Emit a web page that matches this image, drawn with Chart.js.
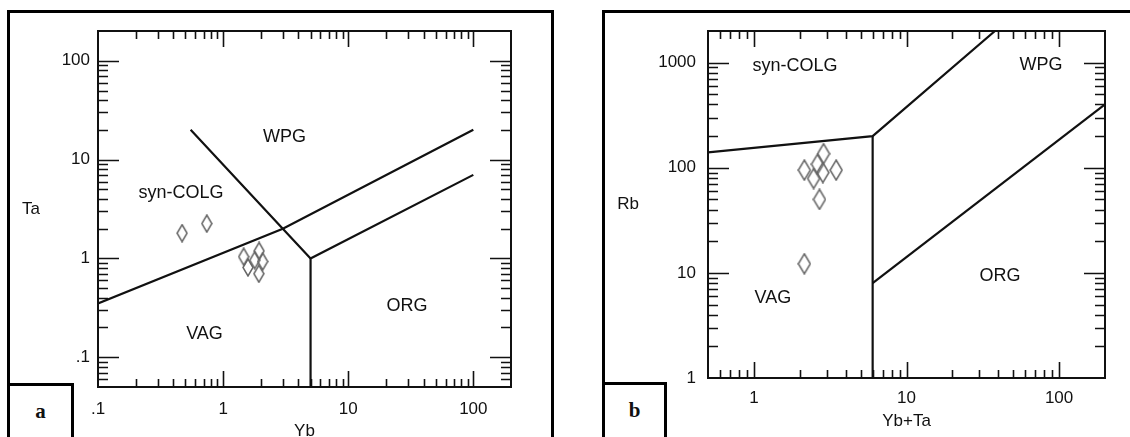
<!DOCTYPE html>
<html>
<head>
<meta charset="utf-8">
<script src="https://cdn.jsdelivr.net/npm/chart.js@4.4.1/dist/chart.umd.min.js"></script>
<style>
  body { margin: 0; background: #fff; width: 1130px; height: 437px; overflow: hidden; position: relative; }
  .frame { position: absolute; border: 3px solid #000; border-bottom: none; box-sizing: border-box; }
  #frameA { left: 7px; top: 10px; width: 547px; height: 440px; }
  #frameB { left: 602px; top: 10px; width: 600px; height: 440px; }
  canvas { position: absolute; top: 0; }
  #chartA { left: 0; }
  #chartB { left: 565px; }
  .tag { position: absolute; background: #fff; border: 3px solid #000; border-bottom: none; box-sizing: border-box;
         font: bold 21px 'Liberation Serif', 'DejaVu Serif', serif; text-align: center; line-height: 50px; color: #111; }
  #tagA { left: 7px; top: 383px; width: 67px; height: 60px; }
  #tagB { left: 602px; top: 382px; width: 65px; height: 60px; }
</style>
</head>
<body>
<div class="frame" id="frameA"></div>
<div class="frame" id="frameB"></div>
<canvas id="chartA" width="560" height="437"></canvas>
<canvas id="chartB" width="565" height="437"></canvas>
<div class="tag" id="tagA">a</div>
<div class="tag" id="tagB">b</div>
<script>
// ---- panel a : Ta vs Yb ----
const aYb = [0.47, 0.74, 1.46, 1.58, 1.79, 1.94, 2.07, 1.93];
const aTa = [1.8, 2.25, 1.04, 0.81, 0.96, 1.19, 0.93, 0.70];
const aLineVagCol = [[0.1, 0.35], [3, 2], [100, 20]];
const aLineWpg = [[0.55, 20], [3, 2], [5, 1]];
const aLineOrg = [[5, 0.05], [5, 1], [100, 7]];
const aXTicks = [0.1, 1, 10, 100];
const aXLabels = ['.1', '1', '10', '100'];
const aYTicks = [0.1, 1, 10, 100];
const aYLabels = ['.1', '1', '10', '100'];
const aFields = ['WPG', 'syn-COLG', 'VAG', 'ORG'];
const aFieldX = [3.1, 0.46, 0.71, 29.5];
const aFieldY = [17, 4.6, 0.17, 0.33];

// ---- panel b : Rb vs Yb+Ta ----
const bYbTa = [2.14, 2.46, 2.61, 2.86, 2.83, 3.46, 2.69, 2.14];
const bRb = [95, 79, 108, 136, 90, 95, 50, 12.2];
const bLineCol = [[0.5, 140], [6, 200], [38, 2000]];
const bLineVag = [[6, 1], [6, 200]];
const bLineOrg = [[6, 8], [200, 400]];
const bXTicks = [1, 10, 100];
const bXLabels = ['1', '10', '100'];
const bYTicks = [1, 10, 100, 1000];
const bYLabels = ['1', '10', '100', '1000'];
const bFields = ['syn-COLG', 'WPG', 'VAG', 'ORG'];
const bFieldX = [1.86, 76, 1.33, 41];
const bFieldY = [930, 945, 5.8, 9.4];

const FONT = "'Liberation Sans', Arial, sans-serif";

function diamond(w, h) {
  const c = document.createElement('canvas');
  c.width = w + 2; c.height = h + 2;
  const g = c.getContext('2d');
  g.strokeStyle = '#666';
  g.lineWidth = 1.5;
  g.beginPath();
  g.moveTo(c.width / 2, 1);
  g.lineTo(c.width - 1, c.height / 2);
  g.lineTo(c.width / 2, c.height - 1);
  g.lineTo(1, c.height / 2);
  g.closePath();
  g.stroke();
  return c;
}

// box, inward log ticks, field names and axis titles
const decor = {
  id: 'decor',
  afterDatasetsDraw(chart, args, o) {
    const ctx = chart.ctx, a = chart.chartArea;
    const xs = chart.scales.x, ys = chart.scales.y;
    ctx.save();
    ctx.strokeStyle = '#111';
    ctx.lineWidth = 2;
    ctx.strokeRect(a.left, a.top, a.right - a.left, a.bottom - a.top);
    ctx.lineWidth = 1.6;
    ctx.beginPath();
    const logTicks = (min, max, fn) => {
      for (let e = Math.floor(Math.log10(min)); e <= Math.ceil(Math.log10(max)); e++) {
        for (let m = 1; m <= 9; m++) {
          const v = m * Math.pow(10, e);
          if (v <= min * 1.001 || v >= max * 0.999) continue;
          fn(v, m === 1);
        }
      }
    };
    logTicks(xs.min, xs.max, (v, major) => {
      const p = Math.round(xs.getPixelForValue(v)) + 0.5;
      const len = major ? 16 : 8;
      ctx.moveTo(p, a.bottom); ctx.lineTo(p, a.bottom - len);
      ctx.moveTo(p, a.top); ctx.lineTo(p, a.top + len);
    });
    logTicks(ys.min, ys.max, (v, major) => {
      const p = Math.round(ys.getPixelForValue(v)) + 0.5;
      const len = major ? 21 : 10;
      ctx.moveTo(a.left, p); ctx.lineTo(a.left + len, p);
      ctx.moveTo(a.right, p); ctx.lineTo(a.right - len, p);
    });
    ctx.stroke();

    ctx.fillStyle = '#111';
    ctx.textAlign = 'center';
    ctx.textBaseline = 'middle';
    ctx.font = '18px ' + FONT;
    o.names.forEach((n, i) => {
      ctx.fillText(n, xs.getPixelForValue(o.nx[i]), ys.getPixelForValue(o.ny[i]));
    });
    ctx.font = '17px ' + FONT;
    ctx.fillText(o.yTitle, o.yTitlePos[0], (a.top + a.bottom) / 2);
    ctx.fillText(o.xTitle, (a.left + a.right) / 2, o.xTitlePos);
    ctx.restore();
  }
};

function boundary(pts) {
  return {
    data: pts.map(p => ({ x: p[0], y: p[1] })),
    showLine: true, borderColor: '#111', borderWidth: 2.2, pointRadius: 0, fill: false
  };
}

function makeChart(id, s) {
  const pts = s.px.map((x, i) => ({ x: x, y: s.py[i] }));
  const axis = (min, max, ticks, labels, pad) => ({
    type: 'logarithmic', min: min, max: max,
    grid: { display: false, drawTicks: false },
    border: { display: false },
    afterBuildTicks: sc => { sc.ticks = ticks.map(v => ({ value: v })); },
    ticks: {
      autoSkip: false, maxRotation: 0, padding: pad, color: '#111',
      font: { family: FONT, size: 17 },
      callback: (v, i) => labels[i]
    }
  });
  const x = axis(s.xMin, s.xMax, s.xTicks, s.xLabels, s.xPad);
  x.afterFit = sc => { sc.height = s.xH; };
  const y = axis(s.yMin, s.yMax, s.yTicks, s.yLabels, s.yPad);
  y.afterFit = sc => { sc.width = s.yW; };
  return new Chart(document.getElementById(id), {
    type: 'scatter',
    data: {
      datasets: [
        ...s.lines.map(boundary),
        { data: pts, pointStyle: diamond(s.dw, s.dh), pointRadius: 6 }
      ]
    },
    options: {
      responsive: false,
      animation: false,
      events: [],
      layout: { padding: { top: s.top, right: s.right, left: 0, bottom: 0 } },
      plugins: {
        legend: { display: false },
        tooltip: { enabled: false },
        decor: {
          names: s.names, nx: s.nx, ny: s.ny,
          xTitle: s.xTitle, yTitle: s.yTitle, xTitlePos: s.xTitlePos, yTitlePos: s.yTitlePos
        }
      },
      scales: { x: x, y: y }
    },
    plugins: [decor]
  });
}

makeChart('chartA', {
  px: aYb, py: aTa, dw: 10, dh: 17,
  lines: [aLineVagCol, aLineWpg, aLineOrg],
  xMin: 0.1, xMax: 200, yMin: 0.05, yMax: 200,
  xTicks: aXTicks, xLabels: aXLabels, yTicks: aYTicks, yLabels: aYLabels,
  xPad: 12, yPad: 8, xH: 50, yW: 98, top: 31, right: 49,
  names: aFields, nx: aFieldX, ny: aFieldY,
  xTitle: 'Yb', yTitle: 'Ta', xTitlePos: 431, yTitlePos: [31]
});

makeChart('chartB', {
  px: bYbTa, py: bRb, dw: 12, dh: 20,
  lines: [bLineCol, bLineVag, bLineOrg],
  xMin: 0.5, xMax: 200, yMin: 1, yMax: 2000,
  xTicks: bXTicks, xLabels: bXLabels, yTicks: bYTicks, yLabels: bYLabels,
  xPad: 10, yPad: 12, xH: 59, yW: 143, top: 31, right: 25,
  names: bFields, nx: bFieldX, ny: bFieldY,
  xTitle: 'Yb+Ta', yTitle: 'Rb', xTitlePos: 421, yTitlePos: [63]
});
</script>
</body>
</html>
